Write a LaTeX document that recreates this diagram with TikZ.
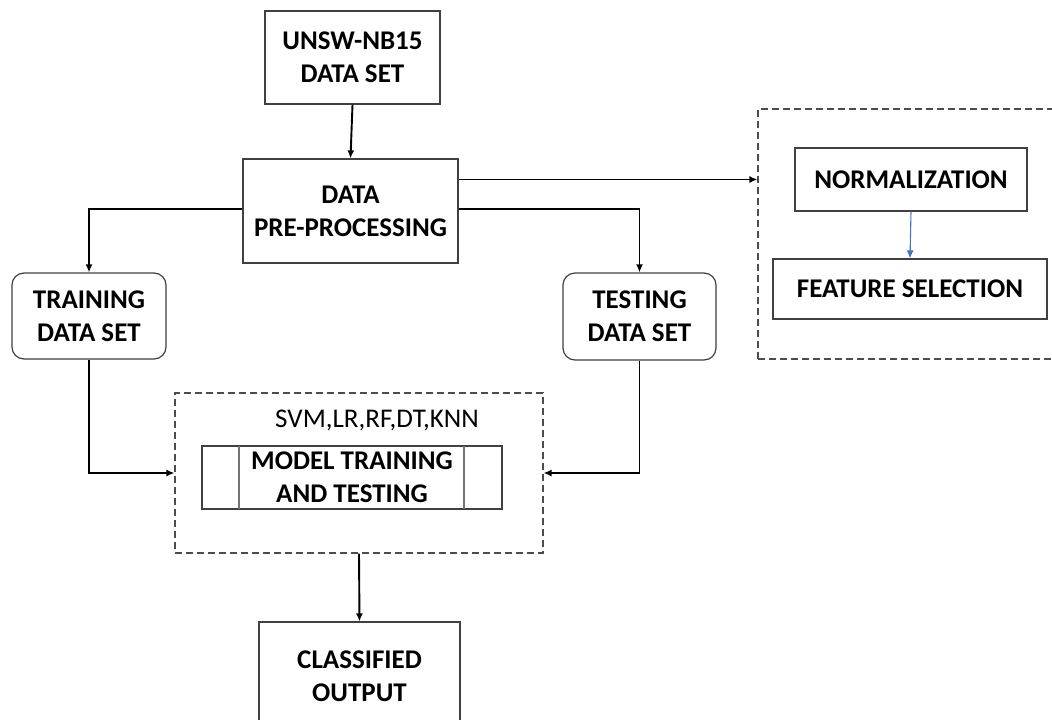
\documentclass[tikz,border=0pt]{standalone}
\usepackage{fontspec}
\setmainfont{Carlito}
\usetikzlibrary{arrows.meta,calc}
\begin{document}
\begin{tikzpicture}[x=1pt,y=-1pt,
  box/.style={draw=black!75,line width=1.2pt,fill=white,inner sep=0pt,align=center,
    font=\bfseries\fontsize{27}{33}\selectfont},
  rbox/.style={box,rounded corners=12pt},
  dbox/.style={draw=black!70,line width=1.1pt,dashed,dash pattern=on 7pt off 4pt,inner sep=0pt},
  conn/.style={line width=1.9pt,-{Latex[length=8pt,width=7pt]}},
  bconn/.style={draw={rgb,255:red,68;green,114;blue,196},line width=1.1pt,
    -{Latex[length=8pt,width=7pt]}}]
\clip (0,0) rectangle (1052,720);
\useasboundingbox (0,0) rectangle (1052,720);

% main pipeline boxes
\node[box,minimum width=175pt,minimum height=93pt] (src) at (352.5,57.5) {UNSW-NB15\\DATA SET};
\node[box,minimum width=215pt,minimum height=104pt] (pre) at (350.5,211) {DATA\\PRE-PROCESSING};
\node[rbox,minimum width=154pt,minimum height=86pt] (train) at (89,316) {TRAINING\\DATA SET};
\node[rbox,minimum width=153pt,minimum height=87pt] (test) at (639.5,316.5) {TESTING\\DATA SET};

% model group
\node[dbox,minimum width=368pt,minimum height=160pt] (mgrp) at (359,473) {};
\node[font=\fontsize{27}{33}\selectfont,inner sep=0pt] (algos) at (377,420) {SVM,LR,RF,DT,KNN};
\node[box,minimum width=300pt,minimum height=63pt] (model) at (352,477.5) {MODEL TRAINING\\AND TESTING};
\draw[black!55,line width=1.1pt] (239,446) -- (239,509) (464,446) -- (464,509);
\draw[black!75,line width=1.2pt] (model.north west) rectangle (model.south east);

\node[box,minimum width=201pt,minimum height=108pt] (out) at (359.5,676) {CLASSIFIED\\OUTPUT};

% preprocessing detail group
\node[dbox,minimum width=320pt,minimum height=250pt] (pgrp) at (918,234) {};
\node[box,minimum width=232pt,minimum height=63pt] (norm) at (911,179.5) {NORMALIZATION};
\node[box,minimum width=274pt,minimum height=60pt] (feat) at (910,289) {FEATURE SELECTION};

% connectors
\draw[conn] (src.south) -- (pre.north);
\draw[conn] (pre.east |- norm) -- (pgrp.west |- norm);
\draw[conn] ($(pre.west)+(0,-2)$) -| (train.north);
\draw[conn] ($(pre.east)+(0,-2)$) -| (test.north);
\draw[conn] (train.south) |- (mgrp.west);
\draw[conn] (test.south) |- (mgrp.east);
\draw[conn] (mgrp.south) -- (out.north);
\draw[bconn] (norm.south) -- (feat.north);
\end{tikzpicture}
\end{document}
